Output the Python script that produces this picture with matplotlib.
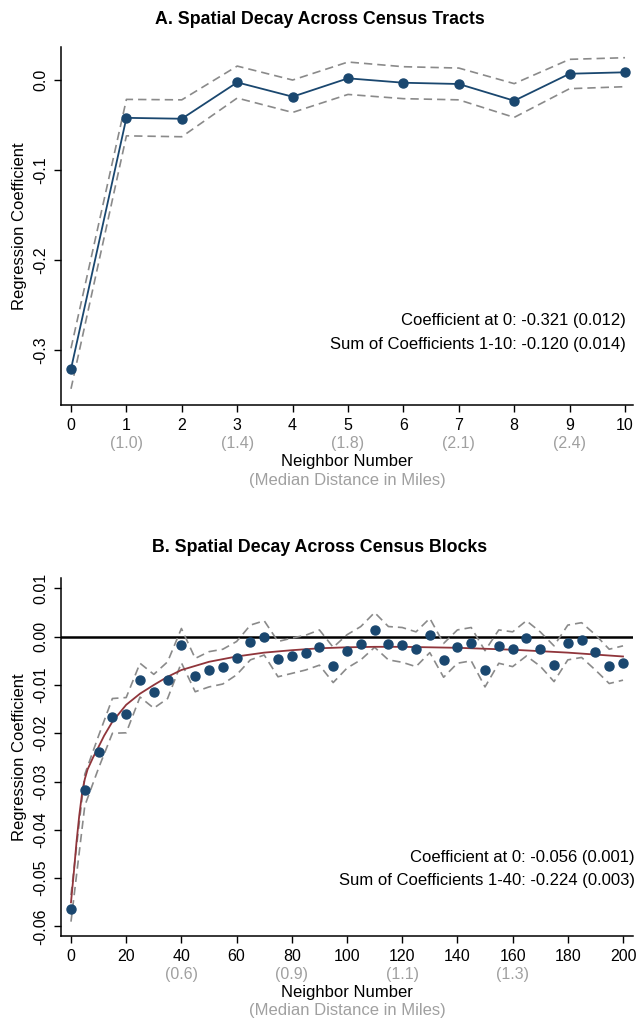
import numpy as np
import matplotlib
matplotlib.use("Agg")
import matplotlib.pyplot as plt

plt.rcParams['font.family'] = ['Liberation Sans', 'DejaVu Sans']
plt.rcParams['axes.unicode_minus'] = False

# colours (Stata-like)
navy = '#1a476f'
cranberry = '#90353b'
dgray = '#8a8a8a'
lgray = '#a0a0a0'

# ---------------- Panel A data: census tracts ----------------
tract_x = [0, 1, 2, 3, 4, 5, 6, 7, 8, 9, 10]
tract_coef = [-0.321, -0.042, -0.043, -0.0026, -0.0185, 0.0019, -0.003, -0.0044, -0.023, 0.007, 0.0086]
tract_hi = [-0.298, -0.0215, -0.022, 0.0155, 0.000, 0.020, 0.0148, 0.0133, -0.004, 0.023, 0.0248]
tract_lo = [-0.343, -0.062, -0.063, -0.020, -0.036, -0.016, -0.0207, -0.022, -0.0415, -0.0096, -0.0074]
tract_dist_ticks = [1, 3, 5, 7, 9]
tract_dist_labels = ['(1.0)', '(1.4)', '(1.8)', '(2.1)', '(2.4)']

# ---------------- Panel B data: census blocks ----------------
block_x = list(range(0, 201, 5))
block_coef = [-0.0564, -0.0317, -0.0239, -0.0166, -0.0161, -0.0090, -0.0114, -0.0090, -0.0017,
              -0.0081, -0.0069, -0.0062, -0.0045, -0.0012, -0.0001, -0.0046, -0.0041, -0.0034,
              -0.0022, -0.0061, -0.0030, -0.0015, 0.0013, -0.0015, -0.0018, -0.0026, 0.0004,
              -0.0048, -0.0021, -0.0014, -0.0068, -0.0019, -0.0026, -0.0003, -0.0025, -0.0058,
              -0.0014, -0.0007, -0.0031, -0.0061, -0.0054]
block_hi = [-0.0535, -0.0285, -0.0205, -0.0128, -0.0126, -0.0055, -0.0078, -0.0052, 0.0017,
            -0.0045, -0.0031, -0.0026, -0.0010, 0.0024, 0.0033, -0.0010, -0.0003, 0.0003,
            0.0014, -0.0022, 0.0004, 0.0021, 0.0050, 0.0021, 0.0019, 0.0010, 0.0038,
            -0.0014, 0.0014, 0.0019, -0.0029, 0.0014, 0.0010, 0.0033, 0.0010, -0.0019,
            0.0024, 0.0029, 0.0004, -0.0026, -0.0019]
block_lo = [-0.0590, -0.0350, -0.0272, -0.0200, -0.0199, -0.0125, -0.0148, -0.0128, -0.0054,
            -0.0114, -0.0104, -0.0098, -0.0079, -0.0048, -0.0038, -0.0083, -0.0076, -0.0069,
            -0.0059, -0.0095, -0.0065, -0.0048, -0.0022, -0.0048, -0.0053, -0.0062, -0.0033,
            -0.0084, -0.0055, -0.0050, -0.0104, -0.0055, -0.0062, -0.0040, -0.0061, -0.0093,
            -0.0048, -0.0043, -0.0069, -0.0097, -0.0090]
# fitted curve
fit_x = [0, 1, 2, 3, 4, 5, 6, 8, 10, 12, 15, 20, 25, 30, 35, 40, 50, 60, 70, 80, 90,
         100, 110, 120, 140, 160, 180, 200]
fit_y = [-0.055, -0.049, -0.0425, -0.037, -0.0325, -0.0295, -0.0275, -0.0250, -0.0228,
         -0.0205, -0.0176, -0.0141, -0.0118, -0.0100, -0.0083, -0.0069, -0.0052, -0.0041,
         -0.0033, -0.0028, -0.0024, -0.0022, -0.0021, -0.0021, -0.0023, -0.0027, -0.0033,
         -0.0041]
block_dist_ticks = [40, 80, 120, 160]
block_dist_labels = ['(0.6)', '(0.9)', '(1.1)', '(1.3)']

fs = 11.5

fig = plt.figure(figsize=(6.39, 10.18), dpi=100)
axA = fig.add_axes([61/639, 1-405/1018, 572/639, 358/1018])
axB = fig.add_axes([61/639, 1-936/1018, 572/639, 358/1018])


def style(ax):
    for s in ['top', 'right']:
        ax.spines[s].set_visible(False)
    ax.spines['left'].set_linewidth(1.1)
    ax.spines['bottom'].set_linewidth(1.1)
    ax.tick_params(direction='out', length=4.8, width=1.0, labelsize=fs, pad=4.5)
    ax.tick_params(axis='y', labelrotation=90)
    for lab in ax.get_yticklabels():
        lab.set_va('center')
    ax.text(-0.0717, 0.5, 'Regression Coefficient', transform=ax.transAxes,
            rotation=90, ha='center', va='center', fontsize=12)
    ax.annotate('Neighbor Number', xy=(0.5, 0), xycoords='axes fraction',
                xytext=(0, -41), textcoords='offset points', ha='center', va='center',
                fontsize=12)
    ax.annotate('(Median Distance in Miles)', xy=(0.5, 0), xycoords='axes fraction',
                xytext=(0, -54), textcoords='offset points', ha='center', va='center',
                fontsize=12, color=lgray)


# ----- Panel A -----
dash = (0, (5, 3))
axA.plot(tract_x, tract_hi, color=dgray, lw=1.2, linestyle=dash)
axA.plot(tract_x, tract_lo, color=dgray, lw=1.2, linestyle=dash)
axA.plot(tract_x, tract_coef, color=navy, lw=1.3, marker='o', markersize=6.5)
axA.set_xlim(-10/55.4, 10 + 8/55.4)
axA.set_ylim(-0.361, 0.0367)
axA.set_xticks(tract_x)
axA.set_yticks([0.0, -0.1, -0.2, -0.3])
axA.set_yticklabels(['0.0', '-0.1', '-0.2', '-0.3'])
style(axA)
for xt, lab in zip(tract_dist_ticks, tract_dist_labels):
    axA.annotate(lab, xy=(xt, 0), xycoords=('data', 'axes fraction'),
                 xytext=(0, -28), textcoords='offset points', ha='center', va='center',
                 fontsize=fs, color=lgray)
axA.text(1.0 - 7/572, 0.235, 'Coefficient at 0: -0.321 (0.012)', transform=axA.transAxes,
         ha='right', va='center', fontsize=12)
axA.text(1.0 - 7/572, 0.168, 'Sum of Coefficients 1-10: -0.120 (0.014)', transform=axA.transAxes,
         ha='right', va='center', fontsize=12)
fig.text(0.5, 1-20/1018, 'A. Spatial Decay Across Census Tracts', ha='center', va='center',
         fontsize=12.8, fontweight='bold')

# ----- Panel B -----
axB.axhline(0, color='black', lw=1.8, zorder=1)
axB.plot(block_x, block_hi, color=dgray, lw=1.2, linestyle=dash, zorder=2)
axB.plot(block_x, block_lo, color=dgray, lw=1.2, linestyle=dash, zorder=2)
axB.plot(fit_x, fit_y, color=cranberry, lw=1.3, zorder=3)
axB.plot(block_x, block_coef, linestyle='none', color=navy, marker='o', markersize=6.5, zorder=4)
axB.set_xlim(-10/2.762, 200 + 10/2.762)
axB.set_ylim(-0.06197, 0.01215)
axB.set_xticks(range(0, 201, 20))
yt = [0.01, 0.0, -0.01, -0.02, -0.03, -0.04, -0.05, -0.06]
axB.set_yticks(yt)
axB.set_yticklabels(['%.2f' % v for v in yt])
style(axB)
for xt, lab in zip(block_dist_ticks, block_dist_labels):
    axB.annotate(lab, xy=(xt, 0), xycoords=('data', 'axes fraction'),
                 xytext=(0, -28), textcoords='offset points', ha='center', va='center',
                 fontsize=fs, color=lgray)
axB.text(1.0 + 2/572, 0.22, 'Coefficient at 0: -0.056 (0.001)', transform=axB.transAxes,
         ha='right', va='center', fontsize=12)
axB.text(1.0 + 2/572, 0.156, 'Sum of Coefficients 1-40: -0.224 (0.003)', transform=axB.transAxes,
         ha='right', va='center', fontsize=12)
fig.text(0.5, 1-547/1018, 'B. Spatial Decay Across Census Blocks', ha='center', va='center',
         fontsize=12.8, fontweight='bold')

fig.savefig('out.png', dpi=100)
